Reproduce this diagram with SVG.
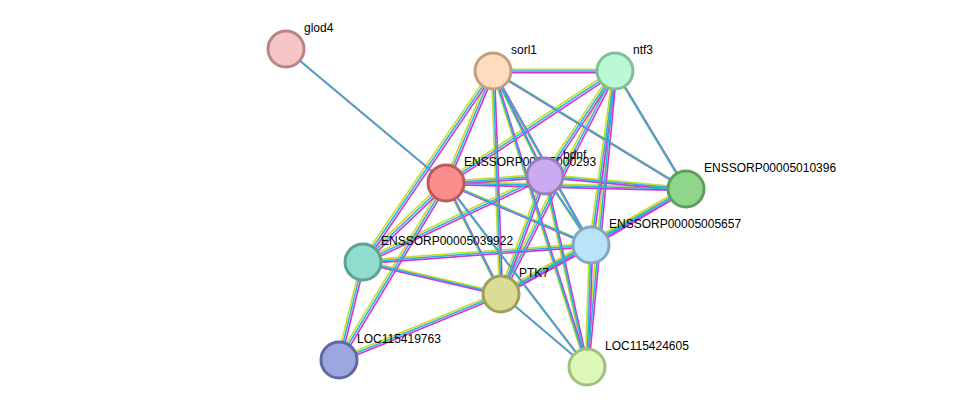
<svg xmlns="http://www.w3.org/2000/svg" xmlns:xlink="http://www.w3.org/1999/xlink" width="976" height="413" viewBox="0 0 976 413">
<style>
text{font-family:"Liberation Sans",Arial,sans-serif;font-size:12px;fill:#000}
.n{stroke-width:3}
#E line{stroke-width:1.6}
</style>
<defs>
<g id="E">
<line x1="286" y1="49" x2="446" y2="183"/>
<line x1="493" y1="71" x2="615" y2="71"/>
<line x1="493" y1="71" x2="446" y2="183"/>
<line x1="493" y1="71" x2="545" y2="176"/>
<line x1="493" y1="71" x2="686" y2="189"/>
<line x1="493" y1="71" x2="591" y2="245"/>
<line x1="493" y1="71" x2="363" y2="262"/>
<line x1="493" y1="71" x2="501" y2="294"/>
<line x1="493" y1="71" x2="587" y2="367"/>
<line x1="615" y1="71" x2="446" y2="183"/>
<line x1="615" y1="71" x2="545" y2="176"/>
<line x1="615" y1="71" x2="686" y2="189"/>
<line x1="615" y1="71" x2="591" y2="245"/>
<line x1="615" y1="71" x2="501" y2="294"/>
<line x1="615" y1="71" x2="587" y2="367"/>
<line x1="446" y1="183" x2="545" y2="176"/>
<line x1="446" y1="183" x2="686" y2="189"/>
<line x1="446" y1="183" x2="591" y2="245"/>
<line x1="446" y1="183" x2="363" y2="262"/>
<line x1="446" y1="183" x2="501" y2="294"/>
<line x1="446" y1="183" x2="339" y2="360"/>
<line x1="446" y1="183" x2="587" y2="367"/>
<line x1="545" y1="176" x2="686" y2="189"/>
<line x1="545" y1="176" x2="591" y2="245"/>
<line x1="545" y1="176" x2="363" y2="262"/>
<line x1="545" y1="176" x2="501" y2="294"/>
<line x1="545" y1="176" x2="587" y2="367"/>
<line x1="686" y1="189" x2="591" y2="245"/>
<line x1="686" y1="189" x2="501" y2="294"/>
<line x1="591" y1="245" x2="363" y2="262"/>
<line x1="591" y1="245" x2="501" y2="294"/>
<line x1="591" y1="245" x2="587" y2="367"/>
<line x1="363" y1="262" x2="501" y2="294"/>
<line x1="363" y1="262" x2="339" y2="360"/>
<line x1="501" y1="294" x2="339" y2="360"/>
<line x1="501" y1="294" x2="587" y2="367"/>
</g>
</defs>
<rect width="976" height="413" fill="#fff"/>
<g id="connectors">
<use xlink:href="#E" stroke="#c8dc2a" transform="translate(-1.6,-1.6)"/>
<use xlink:href="#E" stroke="#d631d6" transform="translate(1.6,1.6)"/>
<use xlink:href="#E" stroke="#2ab4dc"/>
</g>
<g id="glod4"><circle class="n" cx="286" cy="49" r="18" fill="#f6c6c6" stroke="#b88484"/><text x="304" y="32">glod4</text></g>
<g id="sorl1"><circle class="n" cx="493" cy="71" r="18" fill="#fddcbf" stroke="#c0a07e"/><text x="511" y="54">sorl1</text></g>
<g id="ntf3"><circle class="n" cx="615" cy="71" r="18" fill="#bbf8d6" stroke="#7fbf9c"/><text x="633" y="54">ntf3</text></g>
<g id="n293"><circle class="n" cx="446" cy="183" r="18" fill="#fb8c8c" stroke="#c05a5a"/><text x="464" y="166">ENSSORP00005000293</text></g>
<g id="bdnf"><circle class="n" cx="545" cy="176" r="18" fill="#cbaaf2" stroke="#9680b8"/><text x="563" y="159">bdnf</text></g>
<g id="n10396"><circle class="n" cx="686" cy="189" r="18" fill="#8fd68b" stroke="#5f9f5c"/><text x="704" y="172">ENSSORP00005010396</text></g>
<g id="n5657"><circle class="n" cx="591" cy="245" r="18" fill="#bbe3f8" stroke="#80a8c0"/><text x="609" y="228">ENSSORP00005005657</text></g>
<g id="n39922"><circle class="n" cx="363" cy="262" r="18" fill="#90dccf" stroke="#5e9f96"/><text x="381" y="245">ENSSORP00005039922</text></g>
<g id="PTK7"><circle class="n" cx="501" cy="294" r="18" fill="#dcdc96" stroke="#9f9f5c"/><text x="519" y="277">PTK7</text></g>
<g id="LOC115419763"><circle class="n" cx="339" cy="360" r="18" fill="#9ca6e0" stroke="#5f68a0"/><text x="357" y="343">LOC115419763</text></g>
<g id="LOC115424605"><circle class="n" cx="587" cy="367" r="18" fill="#ddf8b8" stroke="#a0c07e"/><text x="605" y="350">LOC115424605</text></g>
</svg>
